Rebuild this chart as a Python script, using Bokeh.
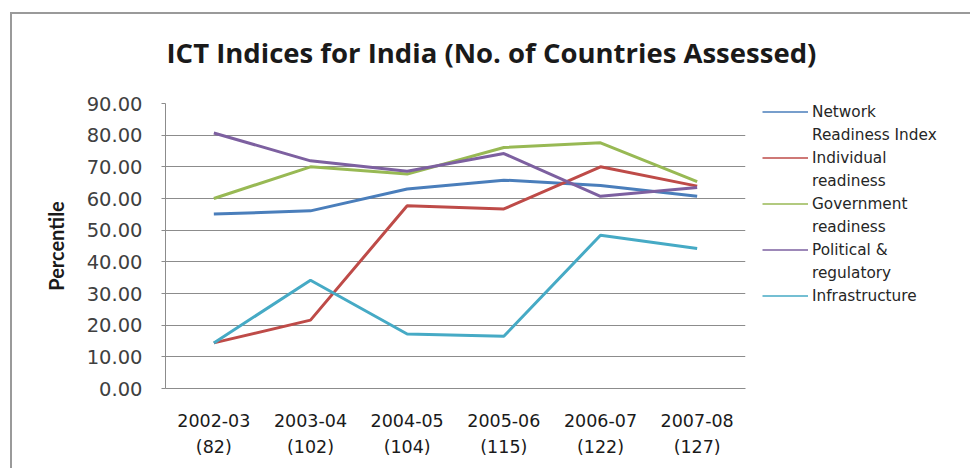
from bokeh.plotting import figure
from bokeh.models import FactorRange, Range1d, FixedTicker, PrintfTickFormatter, Legend, LegendItem
from bokeh.embed import file_html
from bokeh.resources import INLINE

years = ["2002-03", "2003-04", "2004-05", "2005-06", "2006-07", "2007-08"]
countries = [82, 102, 104, 115, 122, 127]

network_readiness = [55.1, 56.1, 63.0, 65.8, 64.1, 60.7]
individual_readiness = [14.4, 21.6, 57.7, 56.7, 70.0, 63.9]
government_readiness = [60.0, 70.0, 67.7, 76.1, 77.6, 65.3]
political_regulatory = [80.7, 71.9, 68.6, 74.2, 60.7, 63.5]
infrastructure = [14.4, 34.2, 17.2, 16.5, 48.4, 44.2]

y_ticks = [0, 10, 20, 30, 40, 50, 60, 70, 80, 90]

series = [
    (["Network", "Readiness Index"], network_readiness, "#4a7ebb"),
    (["Individual", "readiness"], individual_readiness, "#be4b48"),
    (["Government", "readiness"], government_readiness, "#98b954"),
    (["Political &", "regulatory"], political_regulatory, "#7d60a0"),
    (["Infrastructure"], infrastructure, "#46aac5"),
]

labels = [f"{y}\n({c})" for y, c in zip(years, countries)]

p = figure(
    x_range=FactorRange(factors=labels, range_padding=0),
    y_range=Range1d(0, 90),
    frame_width=580, frame_height=285,
    output_backend="svg", toolbar_location=None,
    min_border_left=165, min_border_right=215,
    min_border_top=103, min_border_bottom=80,
)
# chart-area border lines (top and left) drawn behind the transparent canvas
p.styles = {
    "background": (
        "linear-gradient(#9a9a9a, #9a9a9a) 10px 12px / 100% 2px no-repeat, "
        "linear-gradient(#9a9a9a, #9a9a9a) 10px 12px / 2px 100% no-repeat"
    )
}
p.outline_line_color = None
p.background_fill_color = "white"
p.border_fill_color = None

p.title.text = "ICT Indices for India (No. of Countries Assessed)"
p.title.align = "left"
p.title.vertical_align = "top"
p.title.offset = 1
p.title.standoff = 62
p.title.text_font = "Open Sans"
p.title.text_font_style = "bold"
p.title.text_font_size = "27.5px"
p.title.text_color = "#1a1a1a"

p.xgrid.visible = False
p.ygrid.grid_line_color = "#8c8c8c"
p.ygrid.grid_line_width = 1

p.yaxis.ticker = FixedTicker(ticks=y_ticks)
p.yaxis.formatter = PrintfTickFormatter(format="%.2f")
p.yaxis.axis_line_color = "#8c8c8c"
p.yaxis.major_tick_line_color = "#8c8c8c"
p.yaxis.major_tick_out = 4
p.yaxis.major_tick_in = 0
p.yaxis.minor_tick_line_color = None
p.yaxis.major_label_text_font = "DejaVu Sans"
p.yaxis.major_label_text_font_size = "19.5px"
p.yaxis.major_label_text_color = "#404040"
p.yaxis.major_label_standoff = 19
p.yaxis.axis_label = "Percentile"
p.yaxis.axis_label_text_font = "Lato"
p.yaxis.axis_label_text_font_style = "bold"
p.yaxis.axis_label_text_font_size = "20px"
p.yaxis.axis_label_text_color = "#1a1a1a"
p.yaxis.axis_label_standoff = 16

p.xaxis.axis_line_color = "#8c8c8c"
p.xaxis.major_tick_line_color = None
p.xaxis.minor_tick_line_color = None
p.xaxis.major_label_text_font = "DejaVu Sans"
p.xaxis.major_label_text_font_size = "17.5px"
p.xaxis.major_label_text_color = "#1a1a1a"
p.xaxis.major_label_text_line_height = 1.3
p.xaxis.major_label_standoff = 16

nan = float("nan")
items = []
blank = p.line(x=[labels[0]], y=[nan], line_alpha=0)
for name_lines, vals, color in series:
    p.line(x=labels, y=vals, line_color=color, line_width=3)
    # legend-only renderer (no visible data) so the key line can be thin
    key = p.line(x=[labels[0]], y=[nan], line_color=color, line_width=1.5)
    items.append(LegendItem(label=name_lines[0], renderers=[key]))
    for extra in name_lines[1:]:
        items.append(LegendItem(label=extra, renderers=[blank]))

legend = Legend(
    items=items, location=(17, 81),
    padding=0, margin=0, spacing=0,
    glyph_width=46, glyph_height=23, label_height=23, label_standoff=4,
    border_line_color=None, background_fill_alpha=0,
    label_text_font="DejaVu Sans", label_text_font_size="15.3px",
    label_text_color="#262626",
)
p.add_layout(legend, "right")

open("out.html", "w").write(file_html(p, INLINE))
